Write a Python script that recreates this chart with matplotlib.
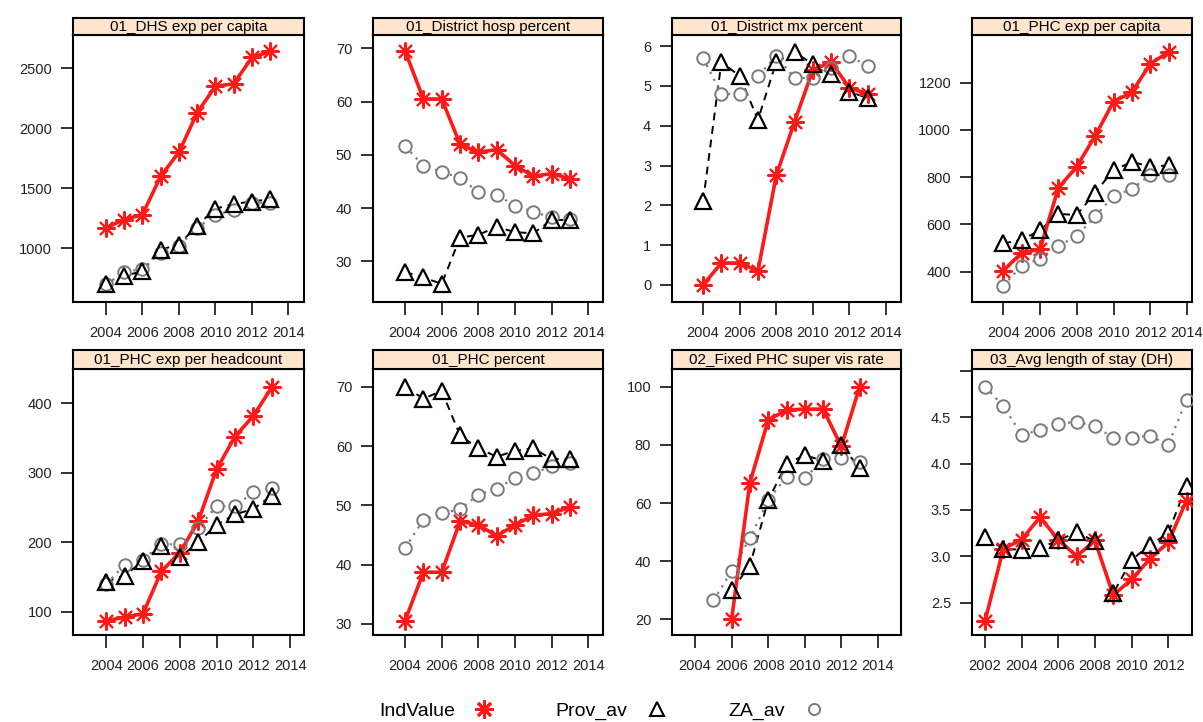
import matplotlib
matplotlib.use('Agg')
import matplotlib.pyplot as plt
from matplotlib.lines import Line2D

plt.rcParams['font.family'] = ['Liberation Sans', 'DejaVu Sans']

# years
yrs_04_13 = [2004, 2005, 2006, 2007, 2008, 2009, 2010, 2011, 2012, 2013]
yrs_05_13 = [2005, 2006, 2007, 2008, 2009, 2010, 2011, 2012, 2013]
yrs_06_13 = [2006, 2007, 2008, 2009, 2010, 2011, 2012, 2013]
yrs_02_13 = [2002, 2003, 2004, 2005, 2006, 2007, 2008, 2009, 2010, 2011, 2012, 2013]

titles = ['01_DHS exp per capita', '01_District hosp percent',
          '01_District mx percent', '01_PHC exp per capita',
          '01_PHC exp per headcount', '01_PHC percent',
          '02_Fixed PHC super vis rate', '03_Avg length of stay (DH)']

# 01_DHS exp per capita
dhs_ind = [1170, 1240, 1280, 1600, 1800, 2130, 2350, 2370, 2590, 2640]
dhs_prov = [705, 770, 810, 990, 1030, 1190, 1330, 1370, 1390, 1410]
dhs_za = [700, 800, 830, 960, 1020, 1170, 1280, 1320, 1380, 1380]

# 01_District hosp percent
hosp_ind = [69.5, 60.5, 60.5, 52.0, 50.5, 51.0, 48.0, 46.0, 46.5, 45.5]
hosp_prov = [28.0, 27.0, 25.8, 34.5, 35.0, 36.5, 35.5, 35.3, 37.8, 37.8]
hosp_za = [51.6, 48.0, 46.8, 45.7, 43.0, 42.5, 40.5, 39.3, 38.3, 38.0]

# 01_District mx percent
mx_ind = [0.0, 0.55, 0.55, 0.35, 2.75, 4.1, 5.4, 5.6, 4.95, 4.8]
mx_prov = [2.1, 5.6, 5.25, 4.15, 5.6, 5.85, 5.55, 5.3, 4.85, 4.7]
mx_za = [5.7, 4.8, 4.8, 5.25, 5.75, 5.2, 5.2, 5.45, 5.75, 5.5]

# 01_PHC exp per capita
phc_ind = [405, 480, 495, 755, 845, 975, 1120, 1160, 1280, 1330]
phc_prov = [520, 535, 575, 645, 640, 735, 830, 865, 845, 850]
phc_za = [340, 425, 455, 510, 550, 635, 720, 750, 810, 810]

# 01_PHC exp per headcount
head_ind = [87, 92, 97, 158, 185, 230, 305, 352, 382, 423]
head_prov = [143, 152, 173, 195, 178, 200, 225, 240, 248, 267]
head_za = [140, 167, 175, 197, 197, 220, 252, 252, 272, 278]

# 01_PHC percent
pct_ind = [30.5, 38.7, 38.7, 47.3, 46.7, 44.8, 46.7, 48.3, 48.6, 49.7]
pct_prov = [70.0, 68.0, 69.3, 61.8, 59.6, 58.2, 59.2, 59.6, 57.8, 57.8]
pct_za = [42.8, 47.5, 48.7, 49.3, 51.8, 52.8, 54.6, 55.4, 56.6, 57.2]

# 02_Fixed PHC super vis rate
sup_ind = [20, 67, 88.5, 92, 92.3, 92.3, 79.5, 100]
sup_prov = [30, 38.5, 61, 73.5, 76.5, 74.5, 79.8, 72]
sup_za = [26.5, 36.5, 48, 61, 69, 68.5, 75, 75.5, 74]

# 03_Avg length of stay (DH)
alos_ind = [2.3, 3.08, 3.18, 3.42, 3.18, 3.0, 3.17, 2.58, 2.75, 2.97, 3.15, 3.6]
alos_prov = [3.21, 3.08, 3.07, 3.09, 3.17, 3.26, 3.16, 2.6, 2.96, 3.12, 3.25, 3.76]
alos_za = [4.83, 4.62, 4.31, 4.36, 4.43, 4.45, 4.4, 4.28, 4.28, 4.3, 4.2, 4.69]

series = [
    (yrs_04_13, dhs_ind, yrs_04_13, dhs_prov, yrs_04_13, dhs_za),
    (yrs_04_13, hosp_ind, yrs_04_13, hosp_prov, yrs_04_13, hosp_za),
    (yrs_04_13, mx_ind, yrs_04_13, mx_prov, yrs_04_13, mx_za),
    (yrs_04_13, phc_ind, yrs_04_13, phc_prov, yrs_04_13, phc_za),
    (yrs_04_13, head_ind, yrs_04_13, head_prov, yrs_04_13, head_za),
    (yrs_04_13, pct_ind, yrs_04_13, pct_prov, yrs_04_13, pct_za),
    (yrs_06_13, sup_ind, yrs_06_13, sup_prov, yrs_05_13, sup_za),
    (yrs_02_13, alos_ind, yrs_02_13, alos_prov, yrs_02_13, alos_za),
]

yticks = [
    [1000, 1500, 2000, 2500],
    [30, 40, 50, 60, 70],
    [0, 1, 2, 3, 4, 5, 6],
    [400, 600, 800, 1000, 1200],
    [100, 200, 300, 400],
    [30, 40, 50, 60, 70],
    [20, 40, 60, 80, 100],
    [2.5, 3.0, 3.5, 4.0, 4.5, 5.0],
]
alos_labels = ['2.5', '3.0', '3.5', '4.0', '4.5', '']

# layout (pixels in a 1203x722 canvas)
W, H = 1203, 722
lefts = [73, 373, 672, 972]
rights = [304, 603, 901, 1192]
rows = [(35, 302, 18), (369, 635, 350)]  # panel top, panel bottom, strip top

xlims = [(2002.2, 2014.85), (2002.25, 2014.8), (2002.3, 2014.82), (2002.3, 2014.27),
         (2002.2, 2014.75), (2002.25, 2014.8), (2002.74, 2015.26), (2001.29, 2013.3)]
ylims = [(553, 2777), (22.4, 72.5), (-0.43, 6.28), (272, 1402),
         (66.4, 449.4), (28.1, 73.0), (14.6, 106.1), (2.15, 5.02)]

RED = '#ff1a1a'
GREY = '#7a7a7a'
STAR = (8, 2, 0)

fig = plt.figure(figsize=(12.03, 7.22), dpi=100)

for i in range(8):
    r, c = divmod(i, 4)
    top, bot, stop = rows[r]
    l, rgt = lefts[c], rights[c]
    ax = fig.add_axes([l / W, 1 - bot / H, (rgt - l) / W, (bot - top) / H])
    sax = fig.add_axes([l / W, 1 - top / H, (rgt - l) / W, (top - stop) / H])

    xi, yi, xp, yp, xz, yz = series[i]
    ax.plot(xp, yp, color='black', ls=(0, (4, 3)), lw=1.4, zorder=1)
    ax.plot(xz, yz, color=GREY, ls=(0, (1, 2.5)), lw=1.6, zorder=1)
    # white masks leave a gap round the symbols, like type='b' in R
    ax.plot(xp, yp, ls='none', marker='^', ms=11, mfc='white', mec='white', zorder=2)
    ax.plot(xz, yz, ls='none', marker='o', ms=9, mfc='white', mec='white', zorder=2)
    ax.plot(xi, yi, color=RED, lw=2.6, marker=STAR, ms=13, mew=1.5, mec=RED, zorder=3)
    ax.plot(xz, yz, ls='none', marker='o', ms=9, mfc='none', mec=GREY, mew=1.4, zorder=4)
    ax.plot(xp, yp, ls='none', marker='^', ms=11, mfc='none', mec='black', mew=1.6, zorder=5)

    ax.set_xlim(*xlims[i])
    ax.set_ylim(*ylims[i])
    if i == 7:
        ax.set_xticks([2002, 2004, 2006, 2008, 2010, 2012])
        ax.set_yticks(yticks[i])
        ax.set_yticklabels(alos_labels)
    else:
        ax.set_xticks([2004, 2006, 2008, 2010, 2012, 2014])
        ax.set_yticks(yticks[i])
    ax.tick_params(axis='x', direction='out', length=9, width=1.3, pad=8,
                   labelsize=10.5, colors='#222222')
    ax.tick_params(axis='y', direction='out', length=9, width=1.3, pad=6,
                   labelsize=10.5, colors='#222222')
    for s in ax.spines.values():
        s.set_linewidth(1.5)

    sax.set_facecolor('#ffe5cc')
    sax.set_xticks([])
    sax.set_yticks([])
    for s in sax.spines.values():
        s.set_linewidth(1.5)
    sax.text(0.5, 0.45, titles[i], ha='center', va='center', fontsize=11,
             transform=sax.transAxes)

handles = [
    Line2D([], [], ls='none', marker=STAR, ms=13, mew=2, color=RED),
    Line2D([], [], ls='none', marker='^', ms=10, mfc='none', mec='black', mew=1.5),
    Line2D([], [], ls='none', marker='o', ms=8, mfc='none', mec=GREY, mew=1.4),
]
fig.legend(handles, ['IndValue', 'Prov_av', 'ZA_av'], loc='center',
           bbox_to_anchor=(0.5, 0.015), ncol=3, frameon=False, markerfirst=False,
           fontsize=14, handlelength=1.0, handletextpad=1.0, columnspacing=3.2)

fig.savefig('out.png', dpi=100)
